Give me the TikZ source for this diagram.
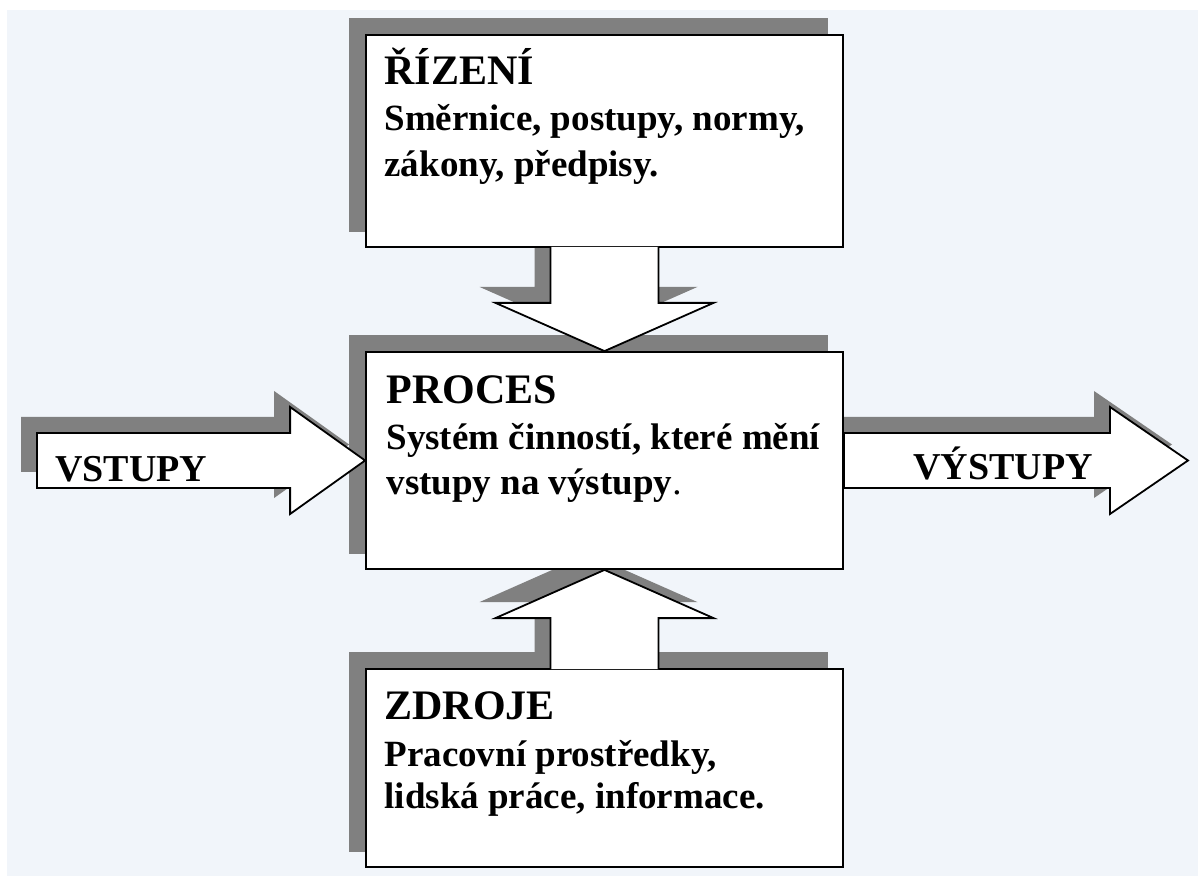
\documentclass[tikz,border=0pt]{standalone}
\usepackage{fontspec}
\setmainfont{Liberation Serif}
\usetikzlibrary{calc}
\pgfdeclarelayer{bg}
\pgfdeclarelayer{shadow}
\pgfdeclarelayer{arrows}
\pgfsetlayers{bg,shadow,arrows,main}
\definecolor{paper}{RGB}{241,245,250}
\definecolor{shade}{RGB}{128,128,128}
\tikzset{
  box/.style={draw=black, fill=white, line width=0.9pt, inner sep=0pt, minimum width=238.5pt},
  blockarrow/.style={draw=black, fill=white, line width=0.9pt, line join=miter},
  shadowfill/.style={fill=shade, draw=none, transform canvas={shift={(-16,-16)}}},
  titletext/.style={anchor=base west, inner sep=0pt, font=\bfseries\fontsize{21}{25}\selectfont},
  bodytext/.style={anchor=base west, inner sep=0pt, font=\bfseries\fontsize{18.5}{22}\selectfont},
  labeltext/.style={anchor=base west, inner sep=0pt, font=\bfseries\fontsize{19}{23}\selectfont}
}
\begin{document}
\begin{tikzpicture}[x=0.5pt, y=-0.5pt]
\useasboundingbox (0,0) rectangle (1198,876);

% the three boxes
\node[box, minimum height=106pt]   (rizeni) at (604.5,141)   {};
\node[box, minimum height=108.5pt] (proces) at (604.5,460.5) {};
\node[box, minimum height=99pt]    (zdroje) at (604.5,768)   {};

% free ends of the side arrows
\coordinate (vin)  at (37,460.5);
\coordinate (vout) at (1188,460.5);

% texts
\node[titletext] (rizeni-t)  at ($(rizeni.north west)+(19,50)$)  {ŘÍZENÍ};
\node[bodytext]  (rizeni-a)  at ($(rizeni.north west)+(19,96)$)  {Směrnice, postupy, normy,};
\node[bodytext]  (rizeni-b)  at ($(rizeni.north west)+(19,142)$) {zákony, předpisy.};

\node[titletext] (proces-t)  at ($(proces.north west)+(21,52)$)  {PROCES};
\node[bodytext]  (proces-a)  at ($(proces.north west)+(21,98)$)  {Systém činností, které mění};
\node[bodytext]  (proces-b)  at ($(proces.north west)+(21,143)$) {vstupy na výstupy{\mdseries.}};

\node[titletext] (zdroje-t)  at ($(zdroje.north west)+(19,51)$)  {ZDROJE};
\node[bodytext]  (zdroje-a)  at ($(zdroje.north west)+(19,98)$)  {Pracovní prostředky,};
\node[bodytext]  (zdroje-b)  at ($(zdroje.north west)+(19,140)$) {lidská práce, informace.};

\node[labeltext] (vstupy)  at ($(vin)+(18,20.5)$)         {VSTUPY};
\node[labeltext] (vystupy) at ($(proces.east)+(69,19.5)$) {VÝSTUPY};

% arrow outlines
\def\downarrow{($(rizeni.south)+(-54,-1)$) -- ($(rizeni.south)+(-54,55)$) -- ($(rizeni.south)+(-109,55)$) -- (proces.north) -- ($(rizeni.south)+(109,55)$) -- ($(rizeni.south)+(54,55)$) -- ($(rizeni.south)+(54,-1)$)}
\def\uparrow{($(zdroje.north)+(-54,1)$) -- ($(zdroje.north)+(-54,-50)$) -- ($(zdroje.north)+(-109,-50)$) -- (proces.south) -- ($(zdroje.north)+(109,-50)$) -- ($(zdroje.north)+(54,-50)$) -- ($(zdroje.north)+(54,1)$)}
\def\inarrow{($(vin)+(0,-27.5)$) -- ($(proces.west)+(-75,-27.5)$) -- ($(proces.west)+(-75,-53.5)$) -- (proces.west) -- ($(proces.west)+(-75,53.5)$) -- ($(proces.west)+(-75,27.5)$) -- ($(vin)+(0,27.5)$) -- cycle}
\def\outarrow{($(proces.east)+(0,-27.5)$) -- ($(vout)+(-78,-27.5)$) -- ($(vout)+(-78,-53.5)$) -- (vout) -- ($(vout)+(-78,53.5)$) -- ($(vout)+(-78,27.5)$) -- ($(proces.east)+(0,27.5)$) -- cycle}

% page background
\begin{pgfonlayer}{bg}
  \fill[white] (0,0) rectangle (1198,876);
  \fill[paper] (7,10) rectangle (1198,876);
\end{pgfonlayer}

% drop shadows
\begin{pgfonlayer}{shadow}
  \foreach \b in {rizeni,proces,zdroje}
    \fill[shadowfill] (\b.north west) rectangle (\b.south east);
  \fill[shadowfill] \downarrow -- cycle;
  \fill[shadowfill] \uparrow -- cycle;
  \fill[shadowfill] \inarrow;
  \fill[shadowfill] \outarrow;
\end{pgfonlayer}

% side arrows, under the process box outline
\begin{pgfonlayer}{arrows}
  \path[blockarrow] \inarrow;
  \path[blockarrow] \outarrow;
\end{pgfonlayer}

% vertical arrows joined to their boxes
\path[blockarrow] \downarrow;
\path[blockarrow] \uparrow;
\end{tikzpicture}
\end{document}
